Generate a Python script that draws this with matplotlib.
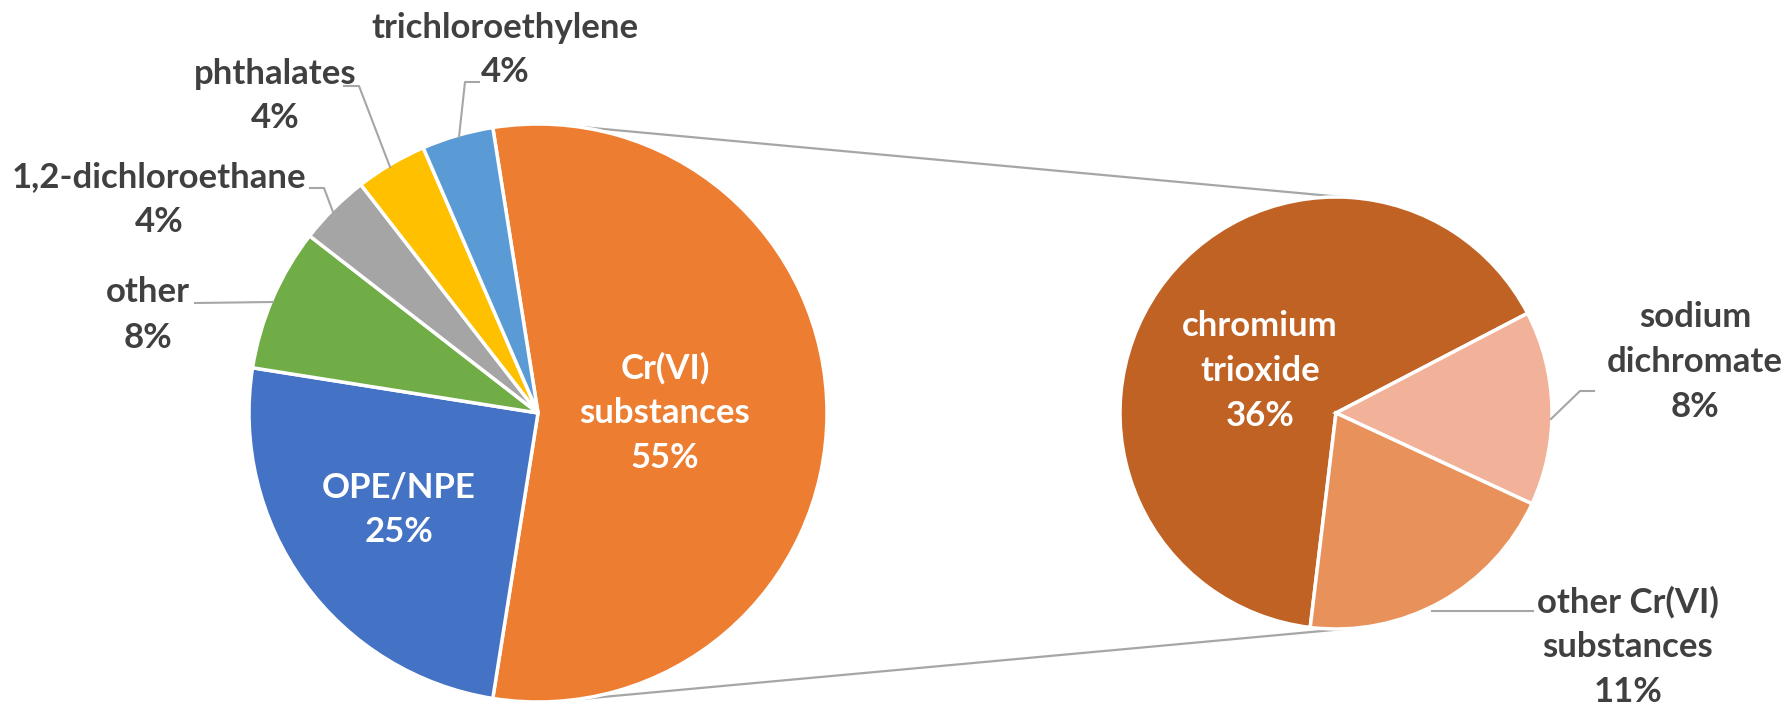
import numpy as np
import matplotlib.pyplot as plt

# main pie
main_labels = ["Cr(VI)\nsubstances", "OPE/NPE", "other", "1,2-dichloroethane", "phthalates", "trichloroethylene"]
main_values = [55, 25, 8, 4, 4, 4]
main_colors = ["#ED7D31", "#4472C4", "#70AD47", "#A5A5A5", "#FFC000", "#5B9BD5"]

# breakdown of Cr(VI) substances
sub_labels = ["chromium\ntrioxide", "sodium\ndichromate", "other Cr(VI)\nsubstances"]
sub_values = [36, 8, 11]
sub_colors = ["#C06224", "#F2B199", "#E8915A"]

W, H = 1788, 704
DARK = "#404040"
LINE = "#A6A6A6"
plt.rcParams['font.family'] = ['Lato', 'DejaVu Sans']


def Y(y):
    # pixel row (from top) -> data y
    return H - y


def pt(c, r, ang):
    a = np.deg2rad(ang)
    return c[0] + r * np.cos(a), c[1] + r * np.sin(a)


fig = plt.figure(figsize=(W / 100, H / 100), dpi=100)
ax = fig.add_axes([0, 0, 1, 1])

c1, r1 = (538, Y(413)), 289
c2, r2 = (1336, Y(413)), 216

wp = dict(edgecolor="white", linewidth=2.5)
ax.pie(main_values, colors=main_colors, startangle=99, counterclock=False,
       center=c1, radius=r1, wedgeprops=wp)
start2 = 27.5 + sub_values[0] / sum(sub_values) * 360
ax.pie(sub_values, colors=sub_colors, startangle=start2, counterclock=False,
       center=c2, radius=r2, wedgeprops=wp)

# connector lines between the two pies
for a1, a2 in [(82.6, 88), (-87.4, -87)]:
    p, q = pt(c1, r1, a1), pt(c2, r2, a2)
    ax.plot([p[0], q[0]], [p[1], q[1]], color=LINE, lw=1.6, zorder=0)

fs = 25
ls = 1.5

# labels of the main pie
main_pos = [(665, 413), (399, 510), (148, 315), (159, 200), (275, 96), (505, 50)]
main_inside = [True, True, False, False, False, False]
for lab, v, (x, y), inside in zip(main_labels, main_values, main_pos, main_inside):
    ax.text(x, Y(y), f"{lab}\n{v}%", ha="center", va="center", fontsize=fs,
            fontweight="bold", color="white" if inside else DARK, linespacing=ls)

sub_pos = [(1260, 371), (1695, 362), (1628, 647)]
sub_inside = [True, False, False]
for lab, v, (x, y), inside in zip(sub_labels, sub_values, sub_pos, sub_inside):
    ax.text(x, Y(y), f"{lab}\n{v}%", ha="center", va="center", fontsize=fs,
            fontweight="bold", color="white" if inside else DARK, linespacing=ls)

# leader lines
leaders = [
    [(459, 137), (465, 82), (479, 82)],
    [(344, 86), (359, 86), (390, 167)],
    [(310, 188), (324, 188), (333, 212)],
    [(195, 303), (273, 302)],
    [(1594, 391), (1580, 391), (1551, 419)],
    [(1533, 611), (1432, 611)],
]
for seg in leaders:
    xs = [s[0] for s in seg]
    ys = [Y(s[1]) for s in seg]
    ax.plot(xs, ys, color=LINE, lw=1.5)

ax.set_xlim(0, W)
ax.set_ylim(0, H)
ax.set_aspect("auto")
ax.axis("off")

fig.savefig("out.png", dpi=100)
